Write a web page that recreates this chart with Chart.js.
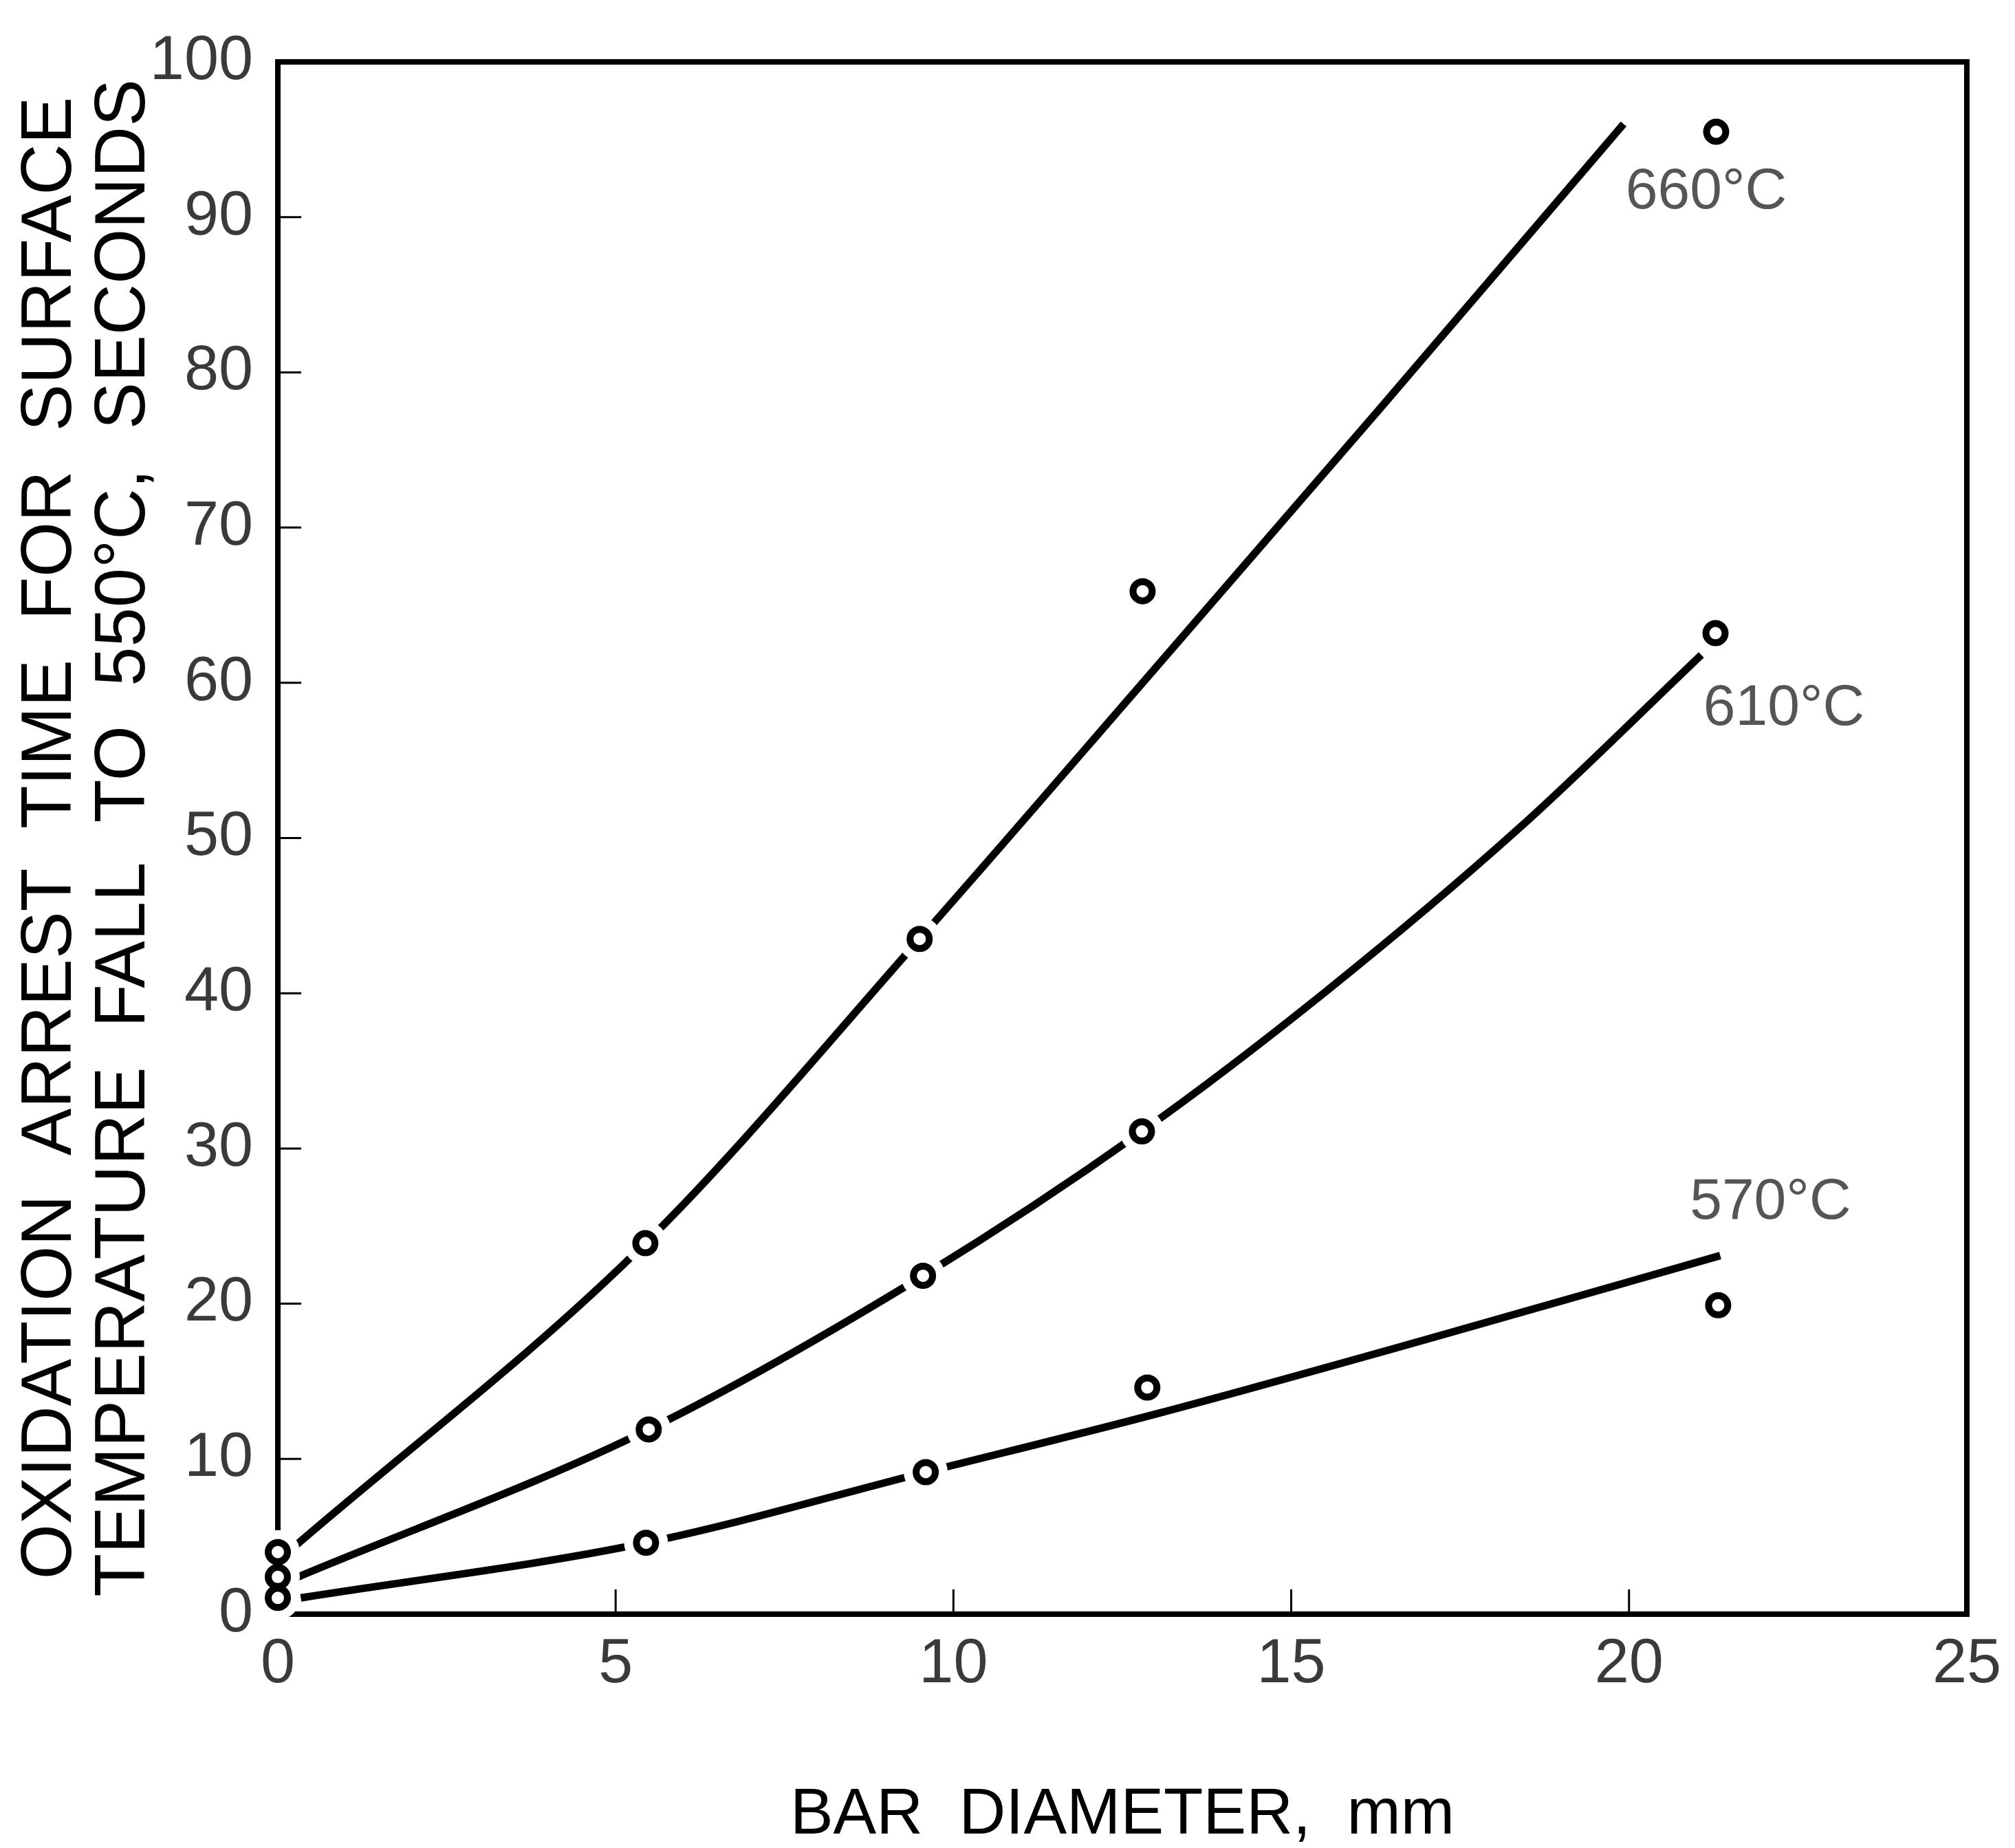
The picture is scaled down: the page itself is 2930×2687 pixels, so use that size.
<!DOCTYPE html>
<html><head><meta charset="utf-8">
<script src="https://cdn.jsdelivr.net/npm/chart.js@4.4.1/dist/chart.umd.min.js"></script>
<style>html,body{margin:0;padding:0;background:#fff;}canvas{display:block;}</style>
</head><body>
<canvas id="c" width="2930" height="2687"></canvas>
<script>
// ---- data ----
const seriesNames = ['660°C', '610°C', '570°C'];
// measured points (circles)
const x660 = [0, 5.44, 9.50, 12.80, 21.29];
const y660 = [4.0, 23.9, 43.5, 65.9, 95.5];
const x610 = [0, 5.49, 9.55, 12.79, 21.28];
const y610 = [2.4, 11.9, 21.8, 31.1, 63.2];
const x570 = [0, 5.45, 9.59, 12.87, 21.32];
const y570 = [1.05, 4.6, 9.15, 14.6, 19.9];
// fitted curves (solid lines)
const cx660 = [0.23, 5.44, 9.5, 12.8, 16.3, 19.92];
const cy660 = [4.3, 23.9, 43.5, 60.0, 77.6, 96.0];
const cx610 = [0.3, 5.49, 9.55, 12.79, 15.48, 18.39, 21.07];
const cy610 = [2.4, 11.9, 21.8, 31.1, 40.0, 50.7, 61.8];
const cx570 = [0.34, 5.45, 9.59, 13.0, 17.0, 21.35];
const cy570 = [1.05, 4.6, 9.15, 12.9, 17.7, 23.1];
// curve label anchor positions (data units)
const labelX = [19.95, 21.1, 20.9];
const labelY = [91.6, 58.3, 26.5];
// axis ticks
const xTickValues = [0, 5, 10, 15, 20, 25];
const yTickValues = [0, 10, 20, 30, 40, 50, 60, 70, 80, 90, 100];
const xTitle = 'BAR  DIAMETER,  mm';
const yTitle = ['OXIDATION  ARREST  TIME  FOR  SURFACE', 'TEMPERATURE  FALL  TO  550°C,  SECONDS'];

const zip = (xs, ys) => xs.map((x, i) => ({x: x, y: ys[i]}));
const allPts = [].concat(zip(x660, y660), zip(x610, y610), zip(x570, y570));

const NARROW = "'Liberation Sans Narrow', 'Liberation Sans', sans-serif";
const WIDE = "'Liberation Sans', sans-serif";

const curveDs = (xs, ys, name) => ({
  label: name + ' curve', data: zip(xs, ys), showLine: true,
  borderColor: '#000', borderWidth: 11, pointRadius: 0, fill: false,
  cubicInterpolationMode: 'monotone', order: 3, clip: false
});
const pointDs = (xs, ys, name) => ({
  label: name, data: zip(xs, ys), showLine: false,
  pointRadius: 14, pointBorderWidth: 10, pointBackgroundColor: '#fff',
  pointBorderColor: '#000', order: 1, clip: false
});

const framePlugin = {
  id: 'frame',
  beforeDatasetsDraw(chart) {
    const {ctx, chartArea: a, scales: {x, y}} = chart;
    ctx.save();
    ctx.strokeStyle = '#000';
    ctx.lineWidth = 3;
    ctx.beginPath();
    y.ticks.forEach(t => {
      if (t.value <= 0 || t.value >= 100) return;
      const py = y.getPixelForValue(t.value);
      ctx.moveTo(a.left, py); ctx.lineTo(a.left + 34, py);
    });
    x.ticks.forEach(t => {
      if (t.value <= 0 || t.value >= 25) return;
      const px = x.getPixelForValue(t.value);
      ctx.moveTo(px, a.bottom); ctx.lineTo(px, a.bottom - 36);
    });
    ctx.stroke();
    ctx.lineWidth = 8;
    ctx.strokeRect(a.left, a.top, a.right - a.left, a.bottom - a.top);
    ctx.restore();
  },
  afterDatasetsDraw(chart) {
    const {ctx, scales: {x, y}} = chart;
    ctx.save();
    ctx.fillStyle = '#555';
    ctx.font = "84px " + NARROW;
    ctx.textAlign = 'left';
    ctx.textBaseline = 'middle';
    seriesNames.forEach((n, i) => {
      ctx.fillText(n, x.getPixelForValue(labelX[i]), y.getPixelForValue(labelY[i]));
    });
    ctx.restore();
  }
};

new Chart(document.getElementById('c'), {
  type: 'scatter',
  data: {
    datasets: [
      curveDs(cx660, cy660, seriesNames[0]),
      curveDs(cx610, cy610, seriesNames[1]),
      curveDs(cx570, cy570, seriesNames[2]),
      {label: 'gap', data: allPts, showLine: false, pointRadius: 32,
       pointBorderWidth: 0, pointBackgroundColor: '#fff', pointBorderColor: '#fff',
       order: 2, clip: false},
      pointDs(x660, y660, seriesNames[0]),
      pointDs(x610, y610, seriesNames[1]),
      pointDs(x570, y570, seriesNames[2])
    ]
  },
  options: {
    responsive: false,
    animation: false,
    events: [],
    layout: {padding: {left: 0, right: 50, top: 87, bottom: 0}},
    plugins: {legend: {display: false}, tooltip: {enabled: false}},
    scales: {
      x: {
        type: 'linear', min: 0, max: 25,
        afterBuildTicks: s => { s.ticks = xTickValues.map(v => ({value: v})); },
        afterFit: s => { s.height = 340; },
        grid: {display: false, drawTicks: false},
        border: {display: false},
        ticks: {color: '#3a3a3a', padding: 20, font: {family: NARROW, size: 90}, maxRotation: 0},
        title: {display: true, text: xTitle, color: '#000',
                font: {family: WIDE, size: 94, lineHeight: 1.0}, padding: {top: 0, bottom: 0}}
      },
      y: {
        type: 'linear', min: 0, max: 100,
        afterBuildTicks: s => { s.ticks = yTickValues.map(v => ({value: v})); },
        afterFit: s => { s.width = 404; },
        grid: {display: false, drawTicks: false},
        border: {display: false},
        ticks: {color: '#3a3a3a', padding: 36, font: {family: NARROW, size: 90}},
        title: {display: true, text: yTitle, color: '#000',
                font: {family: WIDE, size: 103, lineHeight: 1.03}, padding: {top: 22, bottom: 0}}
      }
    }
  },
  plugins: [framePlugin]
});
</script>
</body></html>
